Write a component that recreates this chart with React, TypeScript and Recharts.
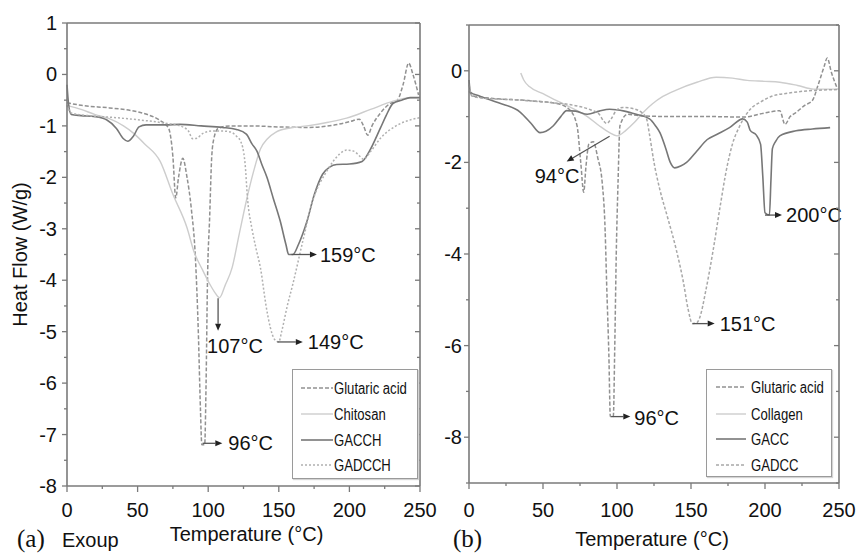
import React from 'react';
import { LineChart, Line, XAxis, YAxis, Legend, ReferenceLine } from 'recharts';

// [temperature °C, heat flow W/g]
const glutaricA = [
  [0, -0.55], [10, -0.6], [30, -0.65], [45, -0.7], [57, -0.78], [65, -0.88], [72, -1.05], [75, -1.6],
  [77, -2.4], [79, -2.0], [82, -1.63], [85, -2.0], [88, -2.6], [91, -3.6], [93, -5.0], [94.5, -6.5],
  [95.5, -7.2], [97.5, -7.2], [98.5, -6.0], [99.5, -4.0], [101, -2.8], [102.5, -1.6], [104, -1.25],
  [107, -1.05], [115, -1.0], [130, -1.0], [150, -1.02], [170, -1.03], [190, -0.98], [200, -0.92],
  [207, -0.87], [210, -1.0], [213, -1.18], [216, -1.0], [222, -0.75], [228, -0.58], [234, -0.5],
  [238, -0.2], [242, 0.22], [245, 0.0], [249, -0.4],
];
const chitosanA = [
  [0, -0.6], [10, -0.68], [20, -0.78], [30, -0.86], [40, -1.0], [47, -1.14], [55, -1.35], [66, -1.69],
  [75, -2.33], [85, -2.98], [90, -3.45], [96, -3.8], [101, -4.07], [105, -4.25], [108, -4.34],
  [112, -4.1], [117, -3.75], [122, -3.1], [127, -2.46], [132, -1.9], [137, -1.45], [142, -1.25],
  [148, -1.12], [158, -1.04], [170, -1.0], [185, -0.93], [198, -0.85], [215, -0.68], [231, -0.52],
  [240, -0.46], [250, -0.45],
];
const gacchA = [
  [0, -0.2], [1, -0.55], [3, -0.78], [10, -0.8], [20, -0.82], [28, -0.88], [35, -1.05], [40, -1.25],
  [43, -1.3], [47, -1.2], [51, -1.02], [56, -0.98], [70, -0.98], [80, -0.97], [95, -1.0], [110, -1.03],
  [120, -1.07], [127, -1.16], [131, -1.35], [134.5, -1.49], [138, -1.75], [141.6, -2.0], [146, -2.4],
  [151, -2.85], [155, -3.3], [157, -3.5], [160, -3.5], [164, -3.3], [170, -2.85], [175, -2.35],
  [181, -1.94], [186, -1.8], [191, -1.75], [200, -1.74], [209, -1.69], [214, -1.5], [222, -1.04],
  [226, -0.8], [231, -0.56], [237, -0.5], [243, -0.45], [250, -0.45],
];
const gadcchA = [
  [0, -0.6], [3, -0.75], [15, -0.8], [30, -0.83], [50, -0.88], [70, -0.95], [80, -1.0], [86, -1.1],
  [89, -1.25], [92, -1.24], [96, -1.15], [103, -1.1], [110, -1.1], [116, -1.12], [120, -1.2],
  [123, -1.3], [126, -1.7], [128, -2.46], [131, -3.0], [134, -3.4], [137, -3.76], [141, -4.5],
  [144, -4.92], [147, -5.15], [150, -5.2], [152, -5.0], [156, -4.5], [160, -4.07], [167, -3.24],
  [174, -2.46], [184, -1.88], [193, -1.55], [198, -1.47], [203, -1.49], [207, -1.58], [210, -1.65],
  [215, -1.5], [222, -1.24], [233, -1.0], [245, -0.87], [250, -0.84],
];

const glutaricB = [
  [0, -0.45], [3, -0.55], [15, -0.6], [40, -0.65], [60, -0.72], [68, -0.85], [73, -1.2], [75.5, -2.0],
  [77.5, -2.65], [79, -2.1], [81, -1.6], [84, -1.55], [87, -1.9], [90, -2.44], [92, -3.5], [93, -4.64],
  [94.5, -6.2], [95.5, -7.55], [97.5, -7.55], [98.5, -6.0], [99.5, -4.0], [100.7, -2.44], [102, -1.2],
  [107, -0.95], [115, -0.98], [140, -1.0], [165, -1.0], [185, -1.01], [200, -0.92], [210, -0.87],
  [213.5, -1.17], [217, -1.0], [221, -0.91], [227, -0.75], [232, -0.65], [236, -0.3], [240, 0.1],
  [242, 0.28], [245, -0.05], [249, -0.4],
];
const collagenB = [
  [35, -0.05], [37, -0.2], [41, -0.35], [50, -0.5], [61, -0.68], [70, -0.82], [80, -1.0], [88, -1.2],
  [95, -1.35], [100, -1.42], [106, -1.3], [112, -1.12], [118, -0.9], [124, -0.72], [131, -0.56],
  [140, -0.42], [154, -0.25], [167, -0.14], [178, -0.16], [188, -0.21], [200, -0.23], [210, -0.25],
  [222, -0.32], [233, -0.4], [250, -0.4],
];
const gaccB = [
  [0, -0.2], [1, -0.47], [7, -0.55], [20, -0.7], [34.5, -0.9], [42, -1.15], [48, -1.35], [52, -1.32],
  [57, -1.2], [62, -1.0], [66, -0.87], [72, -0.88], [80, -0.95], [88, -0.88], [95, -0.84], [105, -0.88],
  [113, -0.95], [122, -1.05], [126, -1.2], [129, -1.35], [133, -1.7], [136, -2.0], [139, -2.12],
  [143, -2.08], [147, -2.0], [154, -1.75], [161, -1.5], [168, -1.38], [176, -1.24], [185, -1.05],
  [188, -1.12], [190, -1.3], [194, -1.4], [197, -1.6], [198.5, -2.3], [200, -3.1], [203, -3.15],
  [204, -2.4], [205, -1.7], [207, -1.55], [210, -1.42], [221, -1.31], [232, -1.27], [244, -1.24],
];
const gadccB = [
  [0, -0.3], [2, -0.55], [10, -0.6], [30, -0.63], [50, -0.68], [70, -0.75], [82, -0.85], [88, -0.95],
  [91, -1.1], [93, -1.15], [96, -1.05], [100, -0.85], [104, -0.8], [110, -0.82], [117, -0.92],
  [120, -1.05], [122, -1.4], [125, -2.0], [129, -2.6], [134, -3.18], [140, -3.9], [145, -4.64],
  [148, -5.2], [151, -5.52], [154, -5.5], [156, -5.38], [160, -4.8], [165, -3.91], [170, -2.9],
  [174, -2.15], [178, -1.6], [183, -1.2], [190, -0.84], [197, -0.68], [205, -0.55], [215, -0.49],
  [228, -0.44], [250, -0.41],
];

const tempTicks = [0, 25, 50, 75, 100, 125, 150, 175, 200, 225, 250];
const flowTicksA = [1, 0.5, 0, -0.5, -1, -1.5, -2, -2.5, -3, -3.5, -4, -4.5, -5, -5.5, -6, -6.5, -7, -7.5, -8];
const flowTicksB = [1, 0, -1, -2, -3, -4, -5, -6, -7, -8, -9];

// peak annotations: arrow from -> to (data units), label offset from arrow tip (px)
const peaksA = [
  { from: [159, -3.5], to: [177, -3.5], label: '159°C', dx: 3, dy: 7 },
  { from: [107, -4.35], to: [107, -4.98], label: '107°C', dx: -11, dy: 22 },
  { from: [149, -5.2], to: [167, -5.2], label: '149°C', dx: 5, dy: 7 },
  { from: [96, -7.17], to: [110, -7.17], label: '96°C', dx: 6, dy: 7 },
];
const peaksB = [
  { from: [95, -1.43], to: [66, -1.98], label: '94°C', dx: -32, dy: 22 },
  { from: [200, -3.15], to: [211.5, -3.15], label: '200°C', dx: 4, dy: 7 },
  { from: [151, -5.52], to: [166, -5.52], label: '151°C', dx: 5, dy: 7 },
  { from: [96, -7.55], to: [109, -7.55], label: '96°C', dx: 4, dy: 8 },
];

const AXIS = '#7a7a7a';
const FONT = '"Liberation Sans", Arial, Helvetica, sans-serif';

const sGlut = { stroke: '#919191', dash: '4 2', width: 1.5 };
const sBio = { stroke: '#cdcdcd', dash: undefined, width: 1.4 };
const sMix = { stroke: '#777777', dash: undefined, width: 1.6 };
const sDot = { stroke: '#b0b0b0', dash: '2 2', width: 1.5 };
const sDash = { stroke: '#a8a8a8', dash: '3 2', width: 1.5 };

const toPts = (arr: number[][]) => arr.map(([t, v]) => ({ t, v }));

const seriesA = [
  { name: 'Glutaric acid', data: glutaricA, ...sGlut },
  { name: 'Chitosan', data: chitosanA, ...sBio },
  { name: 'GACCH', data: gacchA, ...sMix },
  { name: 'GADCCH', data: gadcchA, ...sDot },
];
const seriesB = [
  { name: 'Glutaric acid', data: glutaricB, ...sGlut },
  { name: 'Collagen', data: collagenB, ...sBio },
  { name: 'GACC', data: gaccB, ...sMix },
  { name: 'GADCC', data: gadccB, ...sDash },
];

const bottomTick = (labelDy: number) => (p: any) => {
  const v = p.payload.value;
  const major = v % 50 === 0;
  return (
    <g>
      <line x1={p.x} y1={p.y} x2={p.x} y2={p.y + (major ? 6 : 3)} stroke={AXIS} strokeWidth={1.3} />
      {major && (
        <text x={p.x} y={p.y + labelDy} textAnchor="middle" fontSize={20} fontFamily={FONT} fill="#111">{v}</text>
      )}
    </g>
  );
};
const topTick = (p: any) => {
  const major = p.payload.value % 50 === 0;
  return <line x1={p.x} y1={p.y} x2={p.x} y2={p.y + (major ? 6 : 3)} stroke={AXIS} strokeWidth={1.3} />;
};
const leftTick = (isMajor: (v: number) => boolean, gap: number) => (p: any) => {
  const v = p.payload.value;
  const major = isMajor(v);
  return (
    <g>
      <line x1={p.x - (major ? 5 : 3)} y1={p.y} x2={p.x} y2={p.y} stroke={AXIS} strokeWidth={1.3} />
      {major && (
        <text x={p.x - gap} y={p.y + 7} textAnchor="end" fontSize={20} fontFamily={FONT} fill="#111">{v}</text>
      )}
    </g>
  );
};
const rightTick = (isMajor: (v: number) => boolean) => (p: any) => {
  const major = isMajor(p.payload.value);
  return <line x1={p.x} y1={p.y} x2={p.x - (major ? 5 : 3)} y2={p.y} stroke={AXIS} strokeWidth={1.3} />;
};

const arrowShape = (a: { label: string; dx: number; dy: number }) => (p: any) => {
  const { x1, y1, x2, y2 } = p;
  const ang = Math.atan2(y2 - y1, x2 - x1);
  const L = 7, W = 3;
  const bx = x2 - L * Math.cos(ang), by = y2 - L * Math.sin(ang);
  const tri = `${x2},${y2} ${bx - W * Math.sin(ang)},${by + W * Math.cos(ang)} ${bx + W * Math.sin(ang)},${by - W * Math.cos(ang)}`;
  return (
    <g>
      <line x1={x1} y1={y1} x2={bx} y2={by} stroke="#555" strokeWidth={1.3} />
      <polygon points={tri} fill="#222" />
      <text x={x2 + a.dx} y={y2 + a.dy} fontSize={20} fontFamily={FONT} fill="#111">{a.label}</text>
    </g>
  );
};

// legend text is condensed like the original's narrow face
const LegendBox = ({ items, height, lx1, lx2, tx, rows }: any) => (
  <div style={{ width: 126, height, border: '1px solid #9a9a9a', boxShadow: '1px 1px 1px #d4d4d4', background: '#fff', boxSizing: 'border-box' }}>
    <svg width={124} height={height - 2}>
      {items.map((s: any, i: number) => (
        <g key={s.name}>
          <line x1={lx1} x2={lx2} y1={rows[i]} y2={rows[i]} stroke={s.stroke} strokeWidth={s.width} strokeDasharray={s.dash} />
          <text transform={`translate(${tx},${rows[i] + 5.5}) scale(0.82,1)`} fontSize={16} fontFamily={FONT} fill="#111">{s.name}</text>
        </g>
      ))}
    </svg>
  </div>
);

function Panel(props: any) {
  const { series, peaks, yTicks, yDomain, isMajorY, width, margin, yW, xH, xLabelDy, yGap, legendPos, legendRows, legendLine, titleDx, titleDy, yTitle } = props;
  return (
    <LineChart width={width} height={554} margin={margin}>
      <XAxis xAxisId="b" dataKey="t" type="number" domain={[0, 250]} ticks={tempTicks} interval={0}
        height={xH} tickSize={0} tickMargin={0} tickLine={false} axisLine={{ stroke: AXIS, strokeWidth: 1.6 }}
        tick={bottomTick(xLabelDy)}
        label={(lp: any) => {
          const vb = lp.viewBox || { x: 0, y: 0, width: 0 };
          return (
            <text x={vb.x + vb.width / 2 + titleDx} y={vb.y + titleDy} textAnchor="middle" fontSize={20} fontFamily={FONT} fill="#111">
              Temperature (°C)
            </text>
          );
        }} />
      <XAxis xAxisId="t" orientation="top" dataKey="t" type="number" domain={[0, 250]} ticks={tempTicks} interval={0}
        height={1} tickSize={0} tickMargin={0} tickLine={false} axisLine={{ stroke: AXIS, strokeWidth: 1.6 }} tick={topTick} />
      <YAxis yAxisId="l" dataKey="v" type="number" domain={yDomain} ticks={yTicks} interval={0} allowDataOverflow
        width={yW} tickSize={0} tickMargin={0} tickLine={false} axisLine={{ stroke: AXIS, strokeWidth: 1.6 }}
        tick={leftTick(isMajorY, yGap)}
        label={yTitle ? (lp: any) => {
          const vb = lp.viewBox || { x: 0, y: 23, height: 463 };
          const cx = vb.x + 27, cy = vb.y + vb.height / 2;
          return (
            <text x={cx} y={cy} transform={`rotate(-90, ${cx}, ${cy})`} textAnchor="middle" fontSize={20} fontFamily={FONT} fill="#111">
              {yTitle}
            </text>
          );
        } : undefined} />
      <YAxis yAxisId="r" orientation="right" dataKey="v" type="number" domain={yDomain} ticks={yTicks} interval={0} allowDataOverflow
        width={1} tickSize={0} tickMargin={0} tickLine={false} axisLine={{ stroke: AXIS, strokeWidth: 1.6 }} tick={rightTick(isMajorY)} />
      {series.map((s: any) => (
        <Line key={s.name} xAxisId="b" yAxisId="l" name={s.name} data={toPts(s.data)} dataKey="v" type="monotone"
          stroke={s.stroke} strokeWidth={s.width} strokeDasharray={s.dash} dot={false} activeDot={false}
          isAnimationActive={false} />
      ))}
      {peaks.map((a: any) => (
        <ReferenceLine key={a.label} xAxisId="b" yAxisId="l"
          segment={[{ x: a.from[0], y: a.from[1] }, { x: a.to[0], y: a.to[1] }]}
          shape={arrowShape(a)} />
      ))}
      <Legend layout="horizontal" verticalAlign="middle" align="center"
        wrapperStyle={{ left: legendPos[0], top: legendPos[1], width: 126, height: legendPos[2] }}
        content={() => (
          <LegendBox items={series} height={legendPos[2]} lx1={legendLine[0]} lx2={legendLine[1]} tx={legendLine[2]} rows={legendRows} />
        )} />
    </LineChart>
  );
}

export default function App() {
  return (
    <div style={{ position: 'absolute', left: 0, top: 0, width: 857, height: 554, background: '#fff', overflow: 'hidden' }}>
      <div style={{ position: 'absolute', left: 0, top: 0 }}>
        <Panel series={seriesA} peaks={peaksA} yTicks={flowTicksA} yDomain={[-8, 1]}
          isMajorY={(v: number) => Number.isInteger(v)} width={462}
          margin={{ top: 22, right: 41, bottom: 0, left: 0 }} yW={67} xH={68} xLabelDy={31} yGap={10}
          legendPos={[292, 369, 110]} legendRows={[18, 44, 70, 95]} legendLine={[8, 40, 41]}
          titleDx={3} titleDy={55} yTitle="Heat Flow (W/g)" />
      </div>
      <div style={{ position: 'absolute', left: 430, top: 0 }}>
        <Panel series={seriesB} peaks={peaksB} yTicks={flowTicksB} yDomain={[-9, 1]}
          isMajorY={(v: number) => v % 2 === 0} width={427}
          margin={{ top: 24, right: 17, bottom: 0, left: 0 }} yW={39} xH={71} xLabelDy={34} yGap={7}
          legendPos={[276, 369, 108]} legendRows={[17, 44, 69, 95]} legendLine={[9, 39, 44]}
          titleDx={-2} titleDy={63} yTitle={null} />
      </div>
      <svg width={857} height={554} style={{ position: 'absolute', left: 0, top: 0, pointerEvents: 'none' }}>
        <text x={17} y={547} fontSize={25} fontFamily='"Liberation Serif", "Times New Roman", serif' fill="#111">(a)</text>
        <text x={62} y={547} fontSize={20} fontFamily={FONT} fill="#111">Exoup</text>
        <text x={453} y={547} fontSize={25} fontFamily='"Liberation Serif", "Times New Roman", serif' fill="#111">(b)</text>
      </svg>
    </div>
  );
}
